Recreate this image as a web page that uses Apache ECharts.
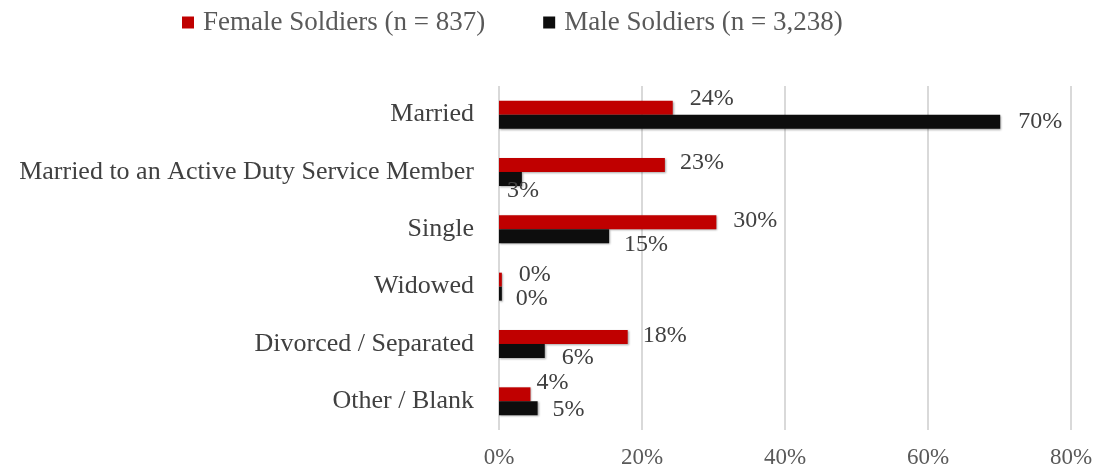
<!DOCTYPE html>
<html>
<head>
<meta charset="utf-8">
<script src="https://cdn.jsdelivr.net/npm/echarts@6/dist/echarts.min.js"></script>
<style>
  html, body { margin: 0; padding: 0; background: #fff; }
  #chart { width: 1100px; height: 472px; }
</style>
</head>
<body>
<div id="chart"></div>
<script>
var categories = ['Married', 'Married to an Active Duty Service Member', 'Single', 'Widowed', 'Divorced / Separated', 'Other / Blank'];
var femaleValues = [24.3, 23.2, 30.4, 0.4, 18.0, 4.4];
var maleValues = [70.1, 3.2, 15.4, 0.4, 6.4, 5.4];
var xTicks = [0, 20, 40, 60, 80];

// label nudges, mimicking the original placement
var femaleOffsets = [[12, -9], [10, -2], [12, -2], [12, -5], [10, -1], [1, -12]];
var maleOffsets = [[13, 0], [-20, 12], [10, 8], [9, 5], [12, 7], [10, 1]];

var font = 'Liberation Serif, Times New Roman, serif';
var textColor = '#404040';

function buildData(values, offsets) {
    return values.map(function (v, i) {
        return { value: v, label: { offset: offsets[i] } };
    });
}

var chart = echarts.init(document.getElementById('chart'));
var option = {
    animation: false,
    legend: {
        top: 4,
        left: 177,
        itemWidth: 12,
        itemHeight: 12,
        itemGap: 58,
        icon: 'rect',
        textStyle: { fontFamily: font, fontSize: 27, color: '#595959', padding: [0, 0, 0, 4] },
        data: ['Female Soldiers (n = 837)', 'Male Soldiers (n = 3,238)']
    },
    grid: { left: 499, right: 29, top: 86, bottom: 42 },
    xAxis: {
        type: 'value',
        min: xTicks[0],
        max: xTicks[xTicks.length - 1],
        interval: 20,
        axisLine: { show: false },
        axisTick: { show: false },
        splitLine: { lineStyle: { color: '#d9d9d9', width: 2 } },
        axisLabel: {
            margin: 16,
            fontFamily: font, fontSize: 23, color: '#595959',
            formatter: '{value}%'
        }
    },
    yAxis: {
        type: 'category',
        inverse: true,
        data: categories,
        axisLine: { show: false },
        axisTick: { show: false },
        axisLabel: { margin: 25, fontFamily: font, fontSize: 26, color: textColor }
    },
    series: [
        {
            name: 'Female Soldiers (n = 837)',
            type: 'bar',
            barWidth: 14,
            barGap: '0%',
            itemStyle: { color: '#c00000', shadowColor: 'rgba(0,0,0,0.35)', shadowBlur: 2, shadowOffsetX: 1, shadowOffsetY: 1 },
            label: {
                show: true, position: 'right', distance: 5,
                fontFamily: font, fontSize: 24, color: textColor,
                formatter: function (p) { return Math.round(p.value) + '%'; }
            },
            data: buildData(femaleValues, femaleOffsets)
        },
        {
            name: 'Male Soldiers (n = 3,238)',
            type: 'bar',
            barWidth: 14,
            barGap: '0%',
            itemStyle: { color: '#0d0d0d', shadowColor: 'rgba(0,0,0,0.35)', shadowBlur: 2, shadowOffsetX: 1, shadowOffsetY: 1 },
            label: {
                show: true, position: 'right', distance: 5,
                fontFamily: font, fontSize: 24, color: textColor,
                formatter: function (p) { return Math.round(p.value) + '%'; }
            },
            data: buildData(maleValues, maleOffsets)
        }
    ]
};
chart.setOption(option);
</script>
</body>
</html>
